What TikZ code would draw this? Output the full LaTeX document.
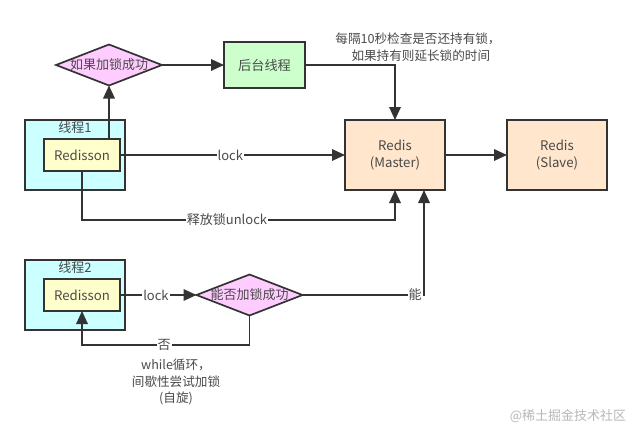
\documentclass[tikz,border=0pt]{standalone}
\usepackage{fontspec}
\setmainfont{Noto Sans CJK SC}[Scale=1]
\usetikzlibrary{arrows.meta,shapes.geometric}
\definecolor{ink}{HTML}{333333}
\definecolor{txt}{HTML}{4A4A4A}
\definecolor{cyanfill}{HTML}{CCFFFF}
\definecolor{yellowfill}{HTML}{FFFFCC}
\definecolor{orangefill}{HTML}{FFE6CC}
\definecolor{greenfill}{HTML}{CCFFCC}
\definecolor{pinkfill}{HTML}{FFCCFF}
\tikzset{
  box/.style={draw=ink,line width=1.7pt,outer sep=0pt,inner sep=0pt,align=center,text=txt,font=\fontsize{13.2}{16.5}\selectfont},
  outerbox/.style={box,fill=cyanfill,minimum width=100pt,minimum height=70pt},
  clientbox/.style={box,fill=yellowfill,minimum width=76pt,minimum height=32pt},
  redisbox/.style={box,fill=orangefill,minimum width=100pt,minimum height=70pt},
  greenbox/.style={box,fill=greenfill,minimum width=81pt,minimum height=46pt},
  decision/.style={diamond,draw=ink,line width=1.7pt,fill=pinkfill,outer sep=0pt,inner sep=0pt,minimum width=106pt,minimum height=41pt},
  dtext/.style={text=txt,font=\fontsize{13}{16}\selectfont,inner sep=0pt},
  link/.style={draw=ink,line width=1.7pt,-{Triangle[length=13pt,width=11.5pt]}},
  edgelabel/.style={fill=white,text=txt,font=\fontsize{13}{15}\selectfont,inner sep=1pt},
  note/.style={text=txt,align=center,font=\fontsize{12.6}{16.5}\selectfont,inner sep=0pt},
}
\begin{document}
\begin{tikzpicture}[x=1pt,y=-1pt]
\useasboundingbox[fill=white] (0,0) rectangle (632,428);
\node[outerbox] (t1) at (75,155) {};
\node[clientbox] (r1) at (82,155) {Redisson};
\node[dtext] (t1l) at (75,128) {线程1};
\node[outerbox] (t2) at (75,295) {};
\node[clientbox] (r2) at (82,295) {Redisson};
\node[dtext] (t2l) at (75,268) {线程2};
\node[decision] (d1) at (109,65) {};
\node[dtext] (d1l) at (d1) {如果加锁成功};
\node[decision] (d2) at (249.5,295) {};
\node[dtext] (d2l) at (d2) {能否加锁成功};
\node[greenbox] (bg) at (264.5,65) {后台线程};
\node[redisbox] (m) at (395,155) {Redis\\(Master)};
\node[redisbox] (s) at (557,155) {Redis\\(Slave)};
\coordinate (mr) at (424,190);
\coordinate (ub) at (227,220);
\coordinate (nb) at (164,345);
\coordinate (yb) at (415,295);
\node[note] (n1) at (418,47) {每隔10秒检查是否还持有锁，\\\ \ 如果持有则延长锁的时间};
\node[note] (n2) at (176,382) {while循环，\\间歇性尝试加锁\\(自旋)};
\node[text=black!28,font=\fontsize{13}{16}\selectfont,inner sep=0pt] (wm) at (568,416) {@稀土掘金技术社区};

\draw[link] (r1.north -| d1.south) -- (d1.south);
\draw[link] (d1.east) -- (bg.west);
\draw[link] (bg.east) -| (m.north);
\draw[link] (r1.east) -- node[edgelabel,pos=0.49] (la) {lock} (m.west);
\draw[link] (m.east) -- (s.west);
\draw[link] (r1.south) |- (ub) -| (m.south);
\node[edgelabel] (lb) at (ub) {释放锁unlock};
\draw[link] (r2.east) -- node[edgelabel,pos=0.47] (lc) {lock} (d2.west);
\draw[link] (d2.east) -| (mr);
\node[edgelabel] (ld) at (yb) {能};
\draw[link] (d2.south) |- (nb) -| (r2.south);
\node[edgelabel] (le) at (nb) {否};
\end{tikzpicture}
\end{document}
